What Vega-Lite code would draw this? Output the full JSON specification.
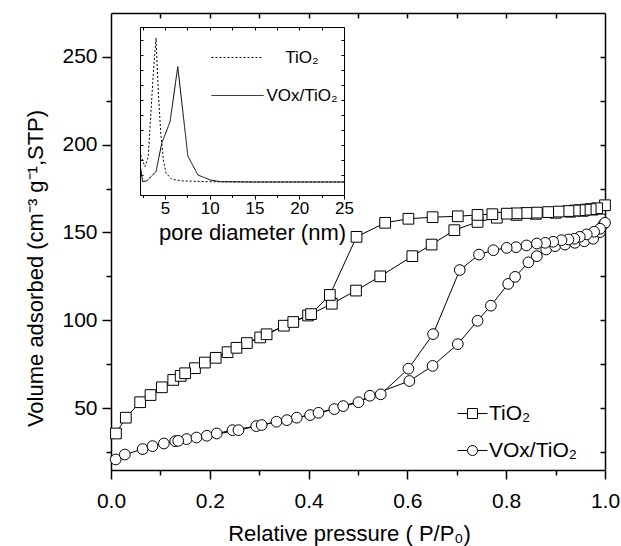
{
  "$schema": "https://vega.github.io/schema/vega-lite/v6.json",
  "autosize": {"type": "none"},
  "width": 494,
  "height": 457,
  "padding": {"left": 111, "top": 13, "right": 16, "bottom": 76},
  "background": "white",
  "datasets": {
    "iso": [
      {"s": "TiO₂", "g": "ta", "p": 0.010, "v": 35.5},
      {"s": "TiO₂", "g": "ta", "p": 0.030, "v": 44.5},
      {"s": "TiO₂", "g": "ta", "p": 0.059, "v": 53.3},
      {"s": "TiO₂", "g": "ta", "p": 0.080, "v": 57.4},
      {"s": "TiO₂", "g": "ta", "p": 0.103, "v": 61.8},
      {"s": "TiO₂", "g": "ta", "p": 0.126, "v": 66.0},
      {"s": "TiO₂", "g": "ta", "p": 0.141, "v": 68.3},
      {"s": "TiO₂", "g": "ta", "p": 0.170, "v": 72.7},
      {"s": "TiO₂", "g": "ta", "p": 0.190, "v": 75.9},
      {"s": "TiO₂", "g": "ta", "p": 0.236, "v": 81.8},
      {"s": "TiO₂", "g": "ta", "p": 0.275, "v": 87.0},
      {"s": "TiO₂", "g": "ta", "p": 0.302, "v": 90.2},
      {"s": "TiO₂", "g": "ta", "p": 0.350, "v": 96.9},
      {"s": "TiO₂", "g": "ta", "p": 0.399, "v": 102.7},
      {"s": "TiO₂", "g": "ta", "p": 0.447, "v": 109.4},
      {"s": "TiO₂", "g": "ta", "p": 0.496, "v": 116.9},
      {"s": "TiO₂", "g": "ta", "p": 0.545, "v": 125.0},
      {"s": "TiO₂", "g": "ta", "p": 0.610, "v": 136.5},
      {"s": "TiO₂", "g": "ta", "p": 0.649, "v": 143.1},
      {"s": "TiO₂", "g": "ta", "p": 0.695, "v": 151.3},
      {"s": "TiO₂", "g": "ta", "p": 0.742, "v": 156.0},
      {"s": "TiO₂", "g": "ta", "p": 0.781, "v": 158.4},
      {"s": "TiO₂", "g": "ta", "p": 0.821, "v": 160.0},
      {"s": "TiO₂", "g": "ta", "p": 0.860, "v": 160.6},
      {"s": "TiO₂", "g": "ta", "p": 0.900, "v": 161.2},
      {"s": "TiO₂", "g": "ta", "p": 0.930, "v": 161.8},
      {"s": "TiO₂", "g": "ta", "p": 0.955, "v": 162.3},
      {"s": "TiO₂", "g": "ta", "p": 0.975, "v": 163.0},
      {"s": "TiO₂", "g": "ta", "p": 0.990, "v": 163.5},
      {"s": "TiO₂", "g": "td", "p": 1.000, "v": 165.5},
      {"s": "TiO₂", "g": "td", "p": 0.984, "v": 163.8},
      {"s": "TiO₂", "g": "td", "p": 0.971, "v": 163.3},
      {"s": "TiO₂", "g": "td", "p": 0.961, "v": 163.0},
      {"s": "TiO₂", "g": "td", "p": 0.949, "v": 162.7},
      {"s": "TiO₂", "g": "td", "p": 0.939, "v": 162.5},
      {"s": "TiO₂", "g": "td", "p": 0.926, "v": 162.2},
      {"s": "TiO₂", "g": "td", "p": 0.906, "v": 161.9},
      {"s": "TiO₂", "g": "td", "p": 0.885, "v": 161.6},
      {"s": "TiO₂", "g": "td", "p": 0.862, "v": 161.3},
      {"s": "TiO₂", "g": "td", "p": 0.841, "v": 161.1},
      {"s": "TiO₂", "g": "td", "p": 0.821, "v": 160.9},
      {"s": "TiO₂", "g": "td", "p": 0.801, "v": 160.7},
      {"s": "TiO₂", "g": "td", "p": 0.772, "v": 160.4},
      {"s": "TiO₂", "g": "td", "p": 0.742, "v": 160.0},
      {"s": "TiO₂", "g": "td", "p": 0.702, "v": 159.2},
      {"s": "TiO₂", "g": "td", "p": 0.651, "v": 158.7},
      {"s": "TiO₂", "g": "td", "p": 0.602, "v": 157.8},
      {"s": "TiO₂", "g": "td", "p": 0.555, "v": 155.5},
      {"s": "TiO₂", "g": "td", "p": 0.497, "v": 147.5},
      {"s": "TiO₂", "g": "td", "p": 0.443, "v": 114.4},
      {"s": "TiO₂", "g": "td", "p": 0.405, "v": 103.5},
      {"s": "TiO₂", "g": "td", "p": 0.369, "v": 99.0},
      {"s": "TiO₂", "g": "td", "p": 0.315, "v": 92.0},
      {"s": "TiO₂", "g": "td", "p": 0.254, "v": 84.3},
      {"s": "TiO₂", "g": "td", "p": 0.212, "v": 78.6},
      {"s": "TiO₂", "g": "td", "p": 0.150, "v": 69.8},
      {"s": "VOx/TiO₂", "g": "va", "p": 0.0095, "v": 20.7},
      {"s": "VOx/TiO₂", "g": "va", "p": 0.028, "v": 23.5},
      {"s": "VOx/TiO₂", "g": "va", "p": 0.064, "v": 26.6},
      {"s": "VOx/TiO₂", "g": "va", "p": 0.084, "v": 28.3},
      {"s": "VOx/TiO₂", "g": "va", "p": 0.107, "v": 29.8},
      {"s": "VOx/TiO₂", "g": "va", "p": 0.130, "v": 31.1},
      {"s": "VOx/TiO₂", "g": "va", "p": 0.153, "v": 32.3},
      {"s": "VOx/TiO₂", "g": "va", "p": 0.173, "v": 33.2},
      {"s": "VOx/TiO₂", "g": "va", "p": 0.194, "v": 34.2},
      {"s": "VOx/TiO₂", "g": "va", "p": 0.214, "v": 35.5},
      {"s": "VOx/TiO₂", "g": "va", "p": 0.246, "v": 37.4},
      {"s": "VOx/TiO₂", "g": "va", "p": 0.294, "v": 39.7},
      {"s": "VOx/TiO₂", "g": "va", "p": 0.335, "v": 42.2},
      {"s": "VOx/TiO₂", "g": "va", "p": 0.376, "v": 44.5},
      {"s": "VOx/TiO₂", "g": "va", "p": 0.403, "v": 46.0},
      {"s": "VOx/TiO₂", "g": "va", "p": 0.452, "v": 49.4},
      {"s": "VOx/TiO₂", "g": "va", "p": 0.501, "v": 53.3},
      {"s": "VOx/TiO₂", "g": "va", "p": 0.524, "v": 57.0},
      {"s": "VOx/TiO₂", "g": "va", "p": 0.604, "v": 65.4},
      {"s": "VOx/TiO₂", "g": "va", "p": 0.651, "v": 74.0},
      {"s": "VOx/TiO₂", "g": "va", "p": 0.702, "v": 86.4},
      {"s": "VOx/TiO₂", "g": "va", "p": 0.742, "v": 99.7},
      {"s": "VOx/TiO₂", "g": "va", "p": 0.769, "v": 108.3},
      {"s": "VOx/TiO₂", "g": "va", "p": 0.804, "v": 120.7},
      {"s": "VOx/TiO₂", "g": "va", "p": 0.818, "v": 124.7},
      {"s": "VOx/TiO₂", "g": "va", "p": 0.845, "v": 133.0},
      {"s": "VOx/TiO₂", "g": "va", "p": 0.862, "v": 136.5},
      {"s": "VOx/TiO₂", "g": "va", "p": 0.881, "v": 140.3},
      {"s": "VOx/TiO₂", "g": "va", "p": 0.899, "v": 142.2},
      {"s": "VOx/TiO₂", "g": "va", "p": 0.919, "v": 143.1},
      {"s": "VOx/TiO₂", "g": "va", "p": 0.939, "v": 144.1},
      {"s": "VOx/TiO₂", "g": "va", "p": 0.958, "v": 145.0},
      {"s": "VOx/TiO₂", "g": "va", "p": 0.976, "v": 146.4},
      {"s": "VOx/TiO₂", "g": "va", "p": 0.990, "v": 150.2},
      {"s": "VOx/TiO₂", "g": "va", "p": 0.997, "v": 154.6},
      {"s": "VOx/TiO₂", "g": "vd", "p": 1.000, "v": 155.5},
      {"s": "VOx/TiO₂", "g": "vd", "p": 0.990, "v": 152.1},
      {"s": "VOx/TiO₂", "g": "vd", "p": 0.978, "v": 150.4},
      {"s": "VOx/TiO₂", "g": "vd", "p": 0.963, "v": 148.9},
      {"s": "VOx/TiO₂", "g": "vd", "p": 0.949, "v": 147.5},
      {"s": "VOx/TiO₂", "g": "vd", "p": 0.938, "v": 146.4},
      {"s": "VOx/TiO₂", "g": "vd", "p": 0.926, "v": 146.0},
      {"s": "VOx/TiO₂", "g": "vd", "p": 0.912, "v": 145.6},
      {"s": "VOx/TiO₂", "g": "vd", "p": 0.895, "v": 144.7},
      {"s": "VOx/TiO₂", "g": "vd", "p": 0.879, "v": 144.1},
      {"s": "VOx/TiO₂", "g": "vd", "p": 0.862, "v": 143.7},
      {"s": "VOx/TiO₂", "g": "vd", "p": 0.841, "v": 142.6},
      {"s": "VOx/TiO₂", "g": "vd", "p": 0.820, "v": 141.6},
      {"s": "VOx/TiO₂", "g": "vd", "p": 0.801, "v": 141.2},
      {"s": "VOx/TiO₂", "g": "vd", "p": 0.774, "v": 139.9},
      {"s": "VOx/TiO₂", "g": "vd", "p": 0.745, "v": 137.4},
      {"s": "VOx/TiO₂", "g": "vd", "p": 0.706, "v": 128.6},
      {"s": "VOx/TiO₂", "g": "vd", "p": 0.652, "v": 92.1},
      {"s": "VOx/TiO₂", "g": "vd", "p": 0.602, "v": 72.4},
      {"s": "VOx/TiO₂", "g": "vd", "p": 0.546, "v": 57.8},
      {"s": "VOx/TiO₂", "g": "vd", "p": 0.470, "v": 51.1},
      {"s": "VOx/TiO₂", "g": "vd", "p": 0.420, "v": 47.3},
      {"s": "VOx/TiO₂", "g": "vd", "p": 0.356, "v": 43.1},
      {"s": "VOx/TiO₂", "g": "vd", "p": 0.305, "v": 40.3},
      {"s": "VOx/TiO₂", "g": "vd", "p": 0.258, "v": 37.4},
      {"s": "VOx/TiO₂", "g": "vd", "p": 0.136, "v": 31.3}
    ],
    "psd": [
      {"c": "TiO₂", "d": 2.27, "q": 27},
      {"c": "TiO₂", "d": 2.75, "q": 15.3},
      {"c": "TiO₂", "d": 3.12, "q": 25},
      {"c": "TiO₂", "d": 3.39, "q": 65},
      {"c": "TiO₂", "d": 3.69, "q": 109},
      {"c": "TiO₂", "d": 3.99, "q": 144},
      {"c": "TiO₂", "d": 4.25, "q": 89},
      {"c": "TiO₂", "d": 4.52, "q": 49},
      {"c": "TiO₂", "d": 4.81, "q": 22},
      {"c": "TiO₂", "d": 5.11, "q": 9},
      {"c": "TiO₂", "d": 5.75, "q": 2.7},
      {"c": "TiO₂", "d": 7.06, "q": 1},
      {"c": "TiO₂", "d": 10, "q": 0.3},
      {"c": "TiO₂", "d": 15, "q": 0},
      {"c": "TiO₂", "d": 20, "q": 0},
      {"c": "TiO₂", "d": 25, "q": 0},
      {"c": "VOx/TiO₂", "d": 2.27, "q": 14},
      {"c": "VOx/TiO₂", "d": 2.49, "q": 0.5},
      {"c": "VOx/TiO₂", "d": 2.94, "q": 1},
      {"c": "VOx/TiO₂", "d": 3.99, "q": 10.3},
      {"c": "VOx/TiO₂", "d": 4.63, "q": 38.7},
      {"c": "VOx/TiO₂", "d": 5.56, "q": 60.3},
      {"c": "VOx/TiO₂", "d": 6.42, "q": 115.3},
      {"c": "VOx/TiO₂", "d": 7.55, "q": 26},
      {"c": "VOx/TiO₂", "d": 8.67, "q": 7},
      {"c": "VOx/TiO₂", "d": 10.06, "q": 2},
      {"c": "VOx/TiO₂", "d": 11.2, "q": 0.3},
      {"c": "VOx/TiO₂", "d": 15, "q": 0},
      {"c": "VOx/TiO₂", "d": 20, "q": 0},
      {"c": "VOx/TiO₂", "d": 25, "q": 0}
    ]
  },
  "layer": [
    {
      "data": {"name": "iso"},
      "mark": {"type": "line", "color": "black", "strokeWidth": 1},
      "encoding": {
        "x": {"field": "p", "type": "quantitative", "scale": {"domain": [0, 1], "nice": false, "zero": false},
          "axis": {"orient": "bottom", "values": [0, 0.2, 0.4, 0.6, 0.8, 1], "format": ".1f", "tickSize": 9, "labelPadding": 11, "labelFontSize": 21, "title": "Relative pressure ( P/P₀)", "titleFontSize": 22, "titlePadding": 12, "titleX": 238}},
        "y": {"field": "v", "type": "quantitative", "scale": {"domain": [14.7, 275], "nice": false, "zero": false},
          "axis": {"orient": "left", "values": [50, 100, 150, 200, 250], "tickSize": 9, "labelPadding": 5, "labelFontSize": 21, "title": "Volume adsorbed (cm⁻³ g⁻¹,STP)", "titleFontSize": 22, "titlePadding": 14, "titleY": 255}},
        "detail": {"field": "g", "type": "nominal"}
      }
    },
    {
      "data": {"name": "iso"},
      "mark": {"type": "point", "filled": true, "fill": "white", "stroke": "black", "strokeWidth": 1, "opacity": 1, "size": 115},
      "encoding": {
        "x": {"field": "p", "type": "quantitative", "scale": {"domain": [0, 1], "nice": false, "zero": false}, "axis": null},
        "y": {"field": "v", "type": "quantitative", "scale": {"domain": [14.7, 275], "nice": false, "zero": false}, "axis": null},
        "shape": {"field": "s", "type": "nominal", "scale": {"domain": ["TiO₂", "VOx/TiO₂"], "range": ["square", "circle"]}, "legend": null}
      }
    },
    {
      "data": {"values": [{}]},
      "mark": {"type": "point", "clip": true},
      "encoding": {
        "x": {"datum": -1, "type": "quantitative", "scale": {"domain": [0, 1], "nice": false, "zero": false}, "axis": null},
        "y": {"datum": -100, "type": "quantitative", "scale": {"domain": [14.7, 275], "nice": false, "zero": false}, "axis": null},
        "color": {"datum": "TiO₂", "type": "nominal", "scale": {"range": ["black"]},
          "legend": {"orient": "none", "legendX": 351, "legendY": 390, "title": null, "padding": 0, "labelFontSize": 21, "labelOffset": 6, "symbolType": "M-3,0H-1M1,0H3M-1,-1H1V1H-1Z", "symbolSize": 100, "symbolStrokeWidth": 1, "symbolStrokeColor": "black", "symbolFillColor": "white", "symbolOpacity": 1}}
      }
    },
    {
      "data": {"values": [{}]},
      "mark": {"type": "point", "clip": true},
      "encoding": {
        "x": {"datum": -1, "type": "quantitative", "scale": {"domain": [0, 1], "nice": false, "zero": false}, "axis": null},
        "y": {"datum": -100, "type": "quantitative", "scale": {"domain": [14.7, 275], "nice": false, "zero": false}, "axis": null},
        "color": {"datum": "VOx/TiO₂", "type": "nominal", "scale": {"range": ["black"]},
          "legend": {"orient": "none", "legendX": 351, "legendY": 427, "title": null, "padding": 0, "labelFontSize": 21, "labelOffset": 6, "symbolType": "M-3,0H-1M1,0H3M-1,0A1,1,0,1,0,1,0A1,1,0,1,0,-1,0Z", "symbolSize": 100, "symbolStrokeWidth": 1, "symbolStrokeColor": "black", "symbolFillColor": "white", "symbolOpacity": 1}}
      }
    },
    {
      "data": {"values": [{}]},
      "mark": {"type": "point", "opacity": 0},
      "encoding": {
        "x": {"datum": 0.5, "type": "quantitative", "scale": {"domain": [0, 1], "nice": false, "zero": false},
          "axis": {"orient": "bottom", "values": [0.1, 0.3, 0.5, 0.7, 0.9], "tickSize": 5, "labels": false, "domain": false, "title": null}},
        "y": {"datum": 100, "type": "quantitative", "scale": {"domain": [14.7, 275], "nice": false, "zero": false},
          "axis": {"orient": "left", "values": [25, 75, 125, 175, 225], "tickSize": 5, "labels": false, "domain": false, "title": null}}
      }
    },
    {
      "data": {"values": [{}]},
      "mark": {"type": "point", "opacity": 0},
      "encoding": {
        "x": {"datum": 0.5, "type": "quantitative", "scale": {"domain": [0, 1], "nice": false, "zero": false},
          "axis": {"orient": "top", "values": [0.1, 0.2, 0.3, 0.4, 0.5, 0.6, 0.7, 0.8, 0.9], "tickSize": -5, "labels": false, "title": null}},
        "y": {"datum": 100, "type": "quantitative", "scale": {"domain": [14.7, 275], "nice": false, "zero": false},
          "axis": {"orient": "right", "values": [25, 50, 75, 100, 125, 150, 175, 200, 225, 250], "tickSize": -5, "labels": false, "title": null}}
      }
    },
    {
      "data": {"name": "psd"},
      "mark": {"type": "line", "color": "black", "strokeWidth": 1},
      "encoding": {
        "x": {"field": "d", "type": "quantitative", "scale": {"domain": [2.2, 25], "range": [29, 233], "nice": false, "zero": false},
          "axis": {"orient": "bottom", "offset": -275, "values": [5, 10, 15, 20, 25], "tickSize": 4, "labelPadding": 1, "labelFontSize": 17, "domainWidth": 1, "tickWidth": 1, "title": "pore diameter (nm)", "titleFontSize": 22, "titlePadding": 6, "titleX": 141}},
        "y": {"field": "q", "type": "quantitative", "scale": {"domain": [-13, 155], "range": [182, 14], "nice": false, "zero": false},
          "axis": {"orient": "left", "offset": -29, "values": [7, 22, 37, 52, 67, 82, 97, 112, 127, 142], "tickSize": -3, "labels": false, "domainWidth": 1, "tickWidth": 1, "title": null}},
        "strokeDash": {"field": "c", "type": "nominal", "scale": {"domain": ["TiO₂", "VOx/TiO₂"], "range": [[2, 2], [1, 0]]},
          "legend": {"orient": "none", "legendX": 100, "legendY": 18, "title": null, "padding": 0, "labelFontSize": 17, "labelAlign": "center", "labelOffset": 38, "rowPadding": 3, "symbolType": "stroke", "symbolSize": 2704, "symbolStrokeWidth": 1, "symbolStrokeColor": "black"}}
      }
    },
    {
      "data": {"values": [{}]},
      "mark": {"type": "point", "opacity": 0},
      "encoding": {
        "x": {"datum": 10, "type": "quantitative", "scale": {"domain": [2.2, 25], "range": [29, 233], "nice": false, "zero": false},
          "axis": {"orient": "bottom", "offset": -275, "values": [2.5, 7.5, 12.5, 17.5, 22.5], "tickSize": 2.5, "tickWidth": 1, "labels": false, "domain": false, "title": null}},
        "y": {"datum": 50, "type": "quantitative", "scale": {"domain": [-13, 155], "range": [182, 14], "nice": false, "zero": false},
          "axis": {"orient": "right", "offset": -261, "values": [7, 22, 37, 52, 67, 82, 97, 112, 127, 142], "tickSize": -3, "labels": false, "domainWidth": 1, "tickWidth": 1, "title": null}}
      }
    },
    {
      "data": {"values": [{}]},
      "mark": {"type": "point", "opacity": 0},
      "encoding": {
        "x": {"datum": 10, "type": "quantitative", "scale": {"domain": [2.2, 25], "range": [29, 233], "nice": false, "zero": false},
          "axis": {"orient": "top", "offset": -14, "values": [2.5, 5, 7.5, 10, 12.5, 15, 17.5, 20, 22.5, 25], "tickSize": -3, "labels": false, "domainWidth": 1, "tickWidth": 1, "title": null}}
      }
    }
  ],
  "resolve": {
    "scale": {"x": "independent", "y": "independent", "shape": "independent", "strokeDash": "independent", "color": "independent"},
    "axis": {"x": "independent", "y": "independent"},
    "legend": {"shape": "independent", "strokeDash": "independent", "color": "independent"}
  },
  "config": {
    "view": {"stroke": null},
    "font": "Liberation Sans",
    "axis": {"grid": false, "domainColor": "black", "tickColor": "black", "labelColor": "black", "titleColor": "black", "domainWidth": 1.5, "tickWidth": 1.5, "labelFont": "Liberation Sans", "titleFont": "Liberation Sans", "titleFontWeight": "normal", "labelFlush": false, "labelOverlap": false, "labelBound": false},
    "legend": {"labelFont": "Liberation Sans", "labelColor": "black"}
  }
}
